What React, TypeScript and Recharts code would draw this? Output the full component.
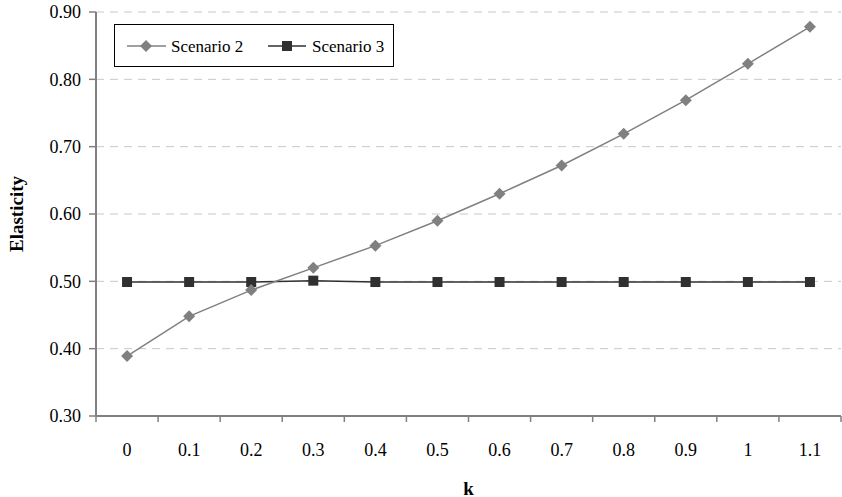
import { CartesianGrid, Label, Legend, Line, LineChart, XAxis, YAxis } from "recharts";

const K_LABELS = ["0", "0.1", "0.2", "0.3", "0.4", "0.5", "0.6", "0.7", "0.8", "0.9", "1", "1.1"];
const SCENARIO_2 = [0.389, 0.448, 0.487, 0.52, 0.553, 0.59, 0.63, 0.672, 0.719, 0.769, 0.823, 0.878];
const SCENARIO_3 = [0.499, 0.499, 0.499, 0.501, 0.499, 0.499, 0.499, 0.499, 0.499, 0.499, 0.499, 0.499];
const Y_TICKS = [0.3, 0.4, 0.5, 0.6, 0.7, 0.8, 0.9];

const FONT = '"Liberation Serif", "Times New Roman", serif';
const GREY = "#808080";
const DARK = "#303030";
const AXIS = "#808080";

const data = K_LABELS.map((k, i) => ({ k, s2: SCENARIO_2[i], s3: SCENARIO_3[i] }));

function Diamond({ cx, cy, r = 6, fill }: { cx: number; cy: number; r?: number; fill: string }) {
  return <polygon points={`${cx},${cy - r} ${cx + r},${cy} ${cx},${cy + r} ${cx - r},${cy}`} fill={fill} />;
}

function Square({ cx, cy, s = 5, fill }: { cx: number; cy: number; s?: number; fill: string }) {
  return <rect x={cx - s} y={cy - s} width={s * 2} height={s * 2} fill={fill} />;
}

// category labels sit mid-band, tick marks sit on the band edges (Excel style)
function KTick(props: any) {
  const { x, y, payload, index, visibleTicksCount } = props;
  const half = payload?.offset || 31;
  return (
    <g>
      <line x1={x - half} y1={y} x2={x - half} y2={y + 6} stroke={AXIS} strokeWidth={1.5} />
      {index === visibleTicksCount - 1 && (
        <line x1={x + half} y1={y} x2={x + half} y2={y + 6} stroke={AXIS} strokeWidth={1.5} />
      )}
      <text x={x} y={y + 34} textAnchor="middle" dominantBaseline="central" style={{ fontSize: 18, fontFamily: FONT }} fill="#000">
        {payload.value}
      </text>
    </g>
  );
}

function LegendBox() {
  return (
    <div
      style={{
        width: 278,
        height: 41,
        border: "1px solid #000",
        background: "#fff",
        boxSizing: "content-box",
        position: "relative",
      }}
    >
      <svg width={278} height={41} style={{ position: "absolute", left: 0, top: 0, fontFamily: FONT, fontSize: 17 }}>
        <line x1={12} y1={21} x2={51} y2={21} stroke={GREY} strokeWidth={1.5} />
        <Diamond cx={31} cy={21} fill={GREY} />
        <text x={56} y={21} dominantBaseline="central" style={{ fontFamily: FONT, fontSize: 17 }}>Scenario 2</text>
        <line x1={153} y1={21} x2={191} y2={21} stroke={DARK} strokeWidth={1.5} />
        <Square cx={172} cy={21} fill={DARK} />
        <text x={197} y={21} dominantBaseline="central" style={{ fontFamily: FONT, fontSize: 17 }}>Scenario 3</text>
      </svg>
    </div>
  );
}

export default function App() {
  return (
    <div style={{ position: "absolute", left: 0, top: 0, background: "#fff", fontFamily: FONT }}>
      <LineChart width={842} height={497} data={data} margin={{ top: 12, right: 1, left: 0, bottom: 0 }}>
        <CartesianGrid stroke="#c8c8c8" strokeDasharray="8 6" vertical={false} />
        <XAxis
          dataKey="k"
          scale="band"
          height={81}
          tick={<KTick />}
          tickLine={false}
          tickSize={0}
          tickMargin={0}
          interval={0}
          axisLine={{ stroke: AXIS, strokeWidth: 2 }}
        >
          <Label
            content={({ viewBox }: any) => (
              <text
                x={viewBox.x + viewBox.width / 2}
                y={viewBox.y + 72}
                textAnchor="middle"
                dominantBaseline="central"
                style={{ fontSize: 19, fontWeight: "bold", fontFamily: FONT }}
              >
                k
              </text>
            )}
          />
        </XAxis>
        <YAxis
          width={96}
          domain={[0.3, 0.9]}
          ticks={Y_TICKS}
          tickFormatter={(v: number) => v.toFixed(2)}
          tick={{ fontSize: 18, fontFamily: FONT, fill: "#000", style: { fontFamily: FONT } }}
          tickSize={7}
          tickMargin={8}
          tickLine={{ stroke: AXIS, strokeWidth: 1.5 }}
          axisLine={{ stroke: AXIS, strokeWidth: 2 }}
        >
          <Label
            content={({ viewBox }: any) => {
              const cx = viewBox.x + 16;
              const cy = viewBox.y + viewBox.height / 2;
              return (
                <text
                  x={cx}
                  y={cy}
                  transform={`rotate(-90, ${cx}, ${cy})`}
                  textAnchor="middle"
                  dominantBaseline="central"
                  style={{ fontSize: 19, fontWeight: "bold", fontFamily: FONT }}
                >
                  Elasticity
                </text>
              );
            }}
          />
        </YAxis>
        <Legend
          layout="vertical"
          align="center"
          verticalAlign="middle"
          content={() => <LegendBox />}
          wrapperStyle={{ left: 114, top: 24, width: 280, height: 43 }}
        />
        <Line
          dataKey="s3"
          name="Scenario 3"
          stroke={DARK}
          strokeWidth={1.5}
          isAnimationActive={false}
          dot={(p: any) => <Square key={`s3-${p.index}`} cx={p.cx} cy={p.cy} fill={DARK} />}
        />
        <Line
          dataKey="s2"
          name="Scenario 2"
          stroke={GREY}
          strokeWidth={1.5}
          isAnimationActive={false}
          dot={(p: any) => <Diamond key={`s2-${p.index}`} cx={p.cx} cy={p.cy} fill={GREY} />}
        />
      </LineChart>
    </div>
  );
}
